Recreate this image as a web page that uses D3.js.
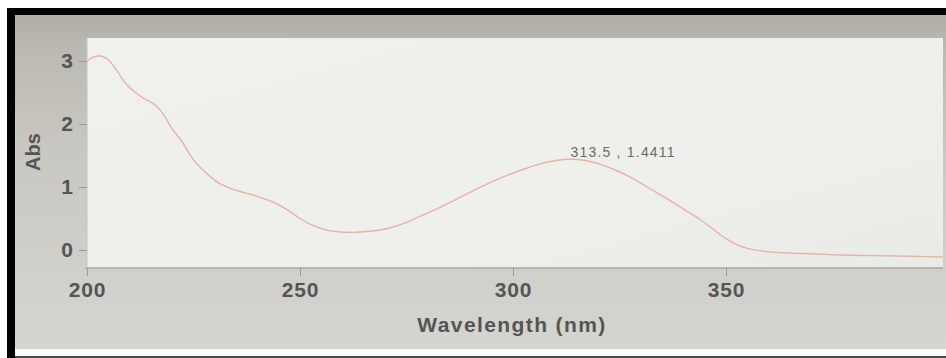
<!DOCTYPE html>
<html>
<head>
<meta charset="utf-8">
<script src="https://cdn.jsdelivr.net/npm/d3@7"></script>
<style>
  html, body { margin: 0; padding: 0; background: #ffffff; }
  svg { display: block; }
</style>
</head>
<body>
<svg id="chart" width="946" height="358"></svg>
<script>
// UV-Vis absorption spectrum
const wavelength = [200, 201.5, 203, 205, 207, 209, 211, 213, 216, 218, 220, 222, 225, 228, 231, 234, 237, 240, 244, 247,
  250, 253, 256, 259, 262, 265, 268, 271, 275, 278, 282, 286, 290, 294, 298, 302, 306, 310, 313.5, 317,
  320, 324, 328, 332, 336, 340, 344, 347, 350, 353, 356, 360, 365, 370, 377, 385, 393, 401];
const absorbance = [3.00, 3.06, 3.08, 3.02, 2.85, 2.65, 2.52, 2.42, 2.30, 2.15, 1.92, 1.75, 1.43, 1.22, 1.06, 0.97, 0.91, 0.85, 0.75, 0.64,
  0.50, 0.39, 0.32, 0.29, 0.28, 0.29, 0.31, 0.35, 0.44, 0.53, 0.65, 0.78, 0.92, 1.05, 1.17, 1.27, 1.36, 1.42, 1.4411, 1.42,
  1.37, 1.27, 1.14, 0.98, 0.82, 0.65, 0.48, 0.33, 0.18, 0.07, 0.01, -0.03, -0.05, -0.06, -0.08, -0.09, -0.10, -0.11];
const xTicks = [200, 250, 300, 350];
const yTicks = [0, 1, 2, 3];
const peak = { wavelength: 313.5, abs: 1.4411 };
const peakLabel = "313.5 , 1.4411";
const xTitle = "Wavelength (nm)";
const yTitle = "Abs";

const svg = d3.select("#chart");
const defs = svg.append("defs");

// plot rectangle in pixels
const plot = { left: 87, right: 943, top: 38, bottom: 268 };

const x = d3.scaleLinear().domain([200, 350]).range([87, 726]);
const y = d3.scaleLinear().domain([0, 3]).range([250, 61]);

// screen backdrop gradient
const bg = defs.append("linearGradient").attr("id", "bg").attr("x1", 0).attr("y1", 0).attr("x2", 0).attr("y2", 1);
bg.append("stop").attr("offset", "0%").attr("stop-color", "#b1ada4");
bg.append("stop").attr("offset", "10%").attr("stop-color", "#bcb9b1");
bg.append("stop").attr("offset", "40%").attr("stop-color", "#c9c7c1");
bg.append("stop").attr("offset", "100%").attr("stop-color", "#d5d4cf");

const pg = defs.append("linearGradient").attr("id", "pg").attr("x1", 0).attr("y1", 0).attr("x2", 1).attr("y2", 1);
pg.append("stop").attr("offset", "0%").attr("stop-color", "#f0f0ec");
pg.append("stop").attr("offset", "60%").attr("stop-color", "#eef0eb");
pg.append("stop").attr("offset", "100%").attr("stop-color", "#e9ebe6");

defs.append("clipPath").attr("id", "clip")
  .append("rect").attr("x", plot.left).attr("y", plot.top)
  .attr("width", plot.right - plot.left).attr("height", plot.bottom - plot.top);

// frame
svg.append("rect").attr("x", 15).attr("y", 15).attr("width", 931).attr("height", 334).attr("fill", "url(#bg)");
svg.append("rect").attr("x", 7).attr("y", 8).attr("width", 939).attr("height", 7).attr("fill", "#000");
svg.append("rect").attr("x", 7).attr("y", 8).attr("width", 8).attr("height", 350).attr("fill", "#000");
svg.append("rect").attr("x", 15).attr("y", 356).attr("width", 931).attr("height", 2).attr("fill", "#4a4a4a");

// plot area
svg.append("rect").attr("x", plot.left).attr("y", plot.top)
  .attr("width", plot.right - plot.left).attr("height", plot.bottom - plot.top)
  .attr("fill", "url(#pg)");

// axis borders
svg.append("line").attr("x1", plot.left - 2).attr("x2", plot.right).attr("y1", plot.bottom).attr("y2", plot.bottom)
  .attr("stroke", "#a6a6a2").attr("stroke-width", 1.5);
svg.append("line").attr("x1", plot.left).attr("x2", plot.left).attr("y1", plot.top).attr("y2", plot.bottom)
  .attr("stroke", "#c4c4bf").attr("stroke-width", 1);

const font = "'Liberation Sans', Arial, sans-serif";

// x axis
const xAxis = svg.append("g").attr("transform", `translate(0,${plot.bottom})`)
  .call(d3.axisBottom(x).tickValues(xTicks).tickSize(8).tickPadding(6).tickFormat(d3.format("d")));
xAxis.select(".domain").remove();
xAxis.selectAll(".tick line").attr("stroke", "#9a9a96").attr("stroke-width", 1);
xAxis.selectAll(".tick text").attr("fill", "#555").attr("font-family", font)
  .attr("font-size", 21).attr("font-weight", "bold").attr("letter-spacing", 0.8);

// y axis
const yAxis = svg.append("g").attr("transform", `translate(${plot.left},0)`)
  .call(d3.axisLeft(y).tickValues(yTicks).tickSize(8).tickPadding(6).tickFormat(d3.format("d")));
yAxis.select(".domain").remove();
yAxis.selectAll(".tick line").attr("stroke", "#9a9a96").attr("stroke-width", 1);
yAxis.selectAll(".tick text").attr("fill", "#555").attr("font-family", font)
  .attr("font-size", 21).attr("font-weight", "bold");

// axis titles
svg.append("text").attr("x", 512).attr("y", 332).attr("text-anchor", "middle")
  .attr("font-family", font).attr("font-size", 21).attr("font-weight", "bold").attr("fill", "#555")
  .attr("letter-spacing", 1.4)
  .text(xTitle);
svg.append("text").attr("transform", "translate(40,152) rotate(-90)").attr("text-anchor", "middle")
  .attr("font-family", font).attr("font-size", 20).attr("font-weight", "bold").attr("fill", "#555")
  .text(yTitle);

// spectrum
const pts = wavelength.map((w, i) => [w, absorbance[i]]);
const line = d3.line().x(d => x(d[0])).y(d => y(d[1])).curve(d3.curveMonotoneX);
svg.append("path").datum(pts).attr("clip-path", "url(#clip)")
  .attr("d", line).attr("fill", "none").attr("stroke", "#e6b2aa").attr("stroke-width", 1.4);

// peak annotation
svg.append("text").attr("x", x(peak.wavelength)).attr("y", y(peak.abs) - 2)
  .attr("font-family", font).attr("font-size", 14).attr("fill", "#6a6a6a")
  .attr("letter-spacing", 1.2)
  .text(peakLabel);
</script>
</body>
</html>
